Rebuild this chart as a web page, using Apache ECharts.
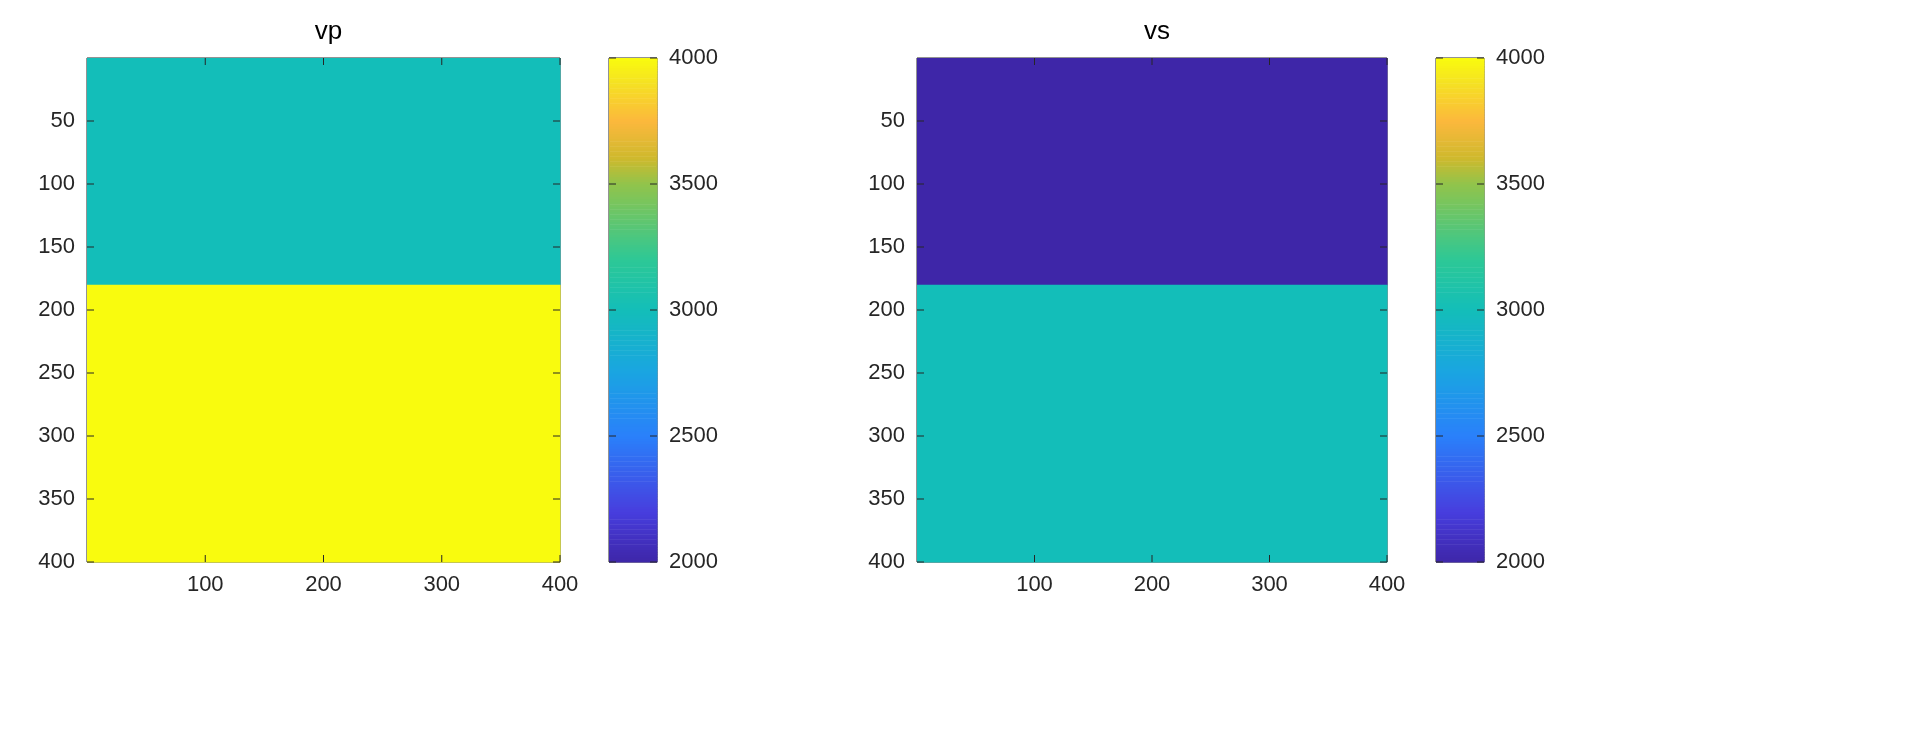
<!DOCTYPE html>
<html><head><meta charset="utf-8">
<script src="https://cdn.jsdelivr.net/npm/echarts@6/dist/echarts.min.js"></script>
<style>html,body{margin:0;background:#fff}#c{width:1911px;height:756px}</style>
</head><body><div id="c"></div>
<script>
// data: [x0, x1, y0, y1, value]
const vpBlocks = [[0,400,0,180,3000],[0,400,180,400,4000]];
const vsBlocks = [[0,400,0,180,2000],[0,400,180,400,3000]];
const titles = ['vp','vs'];
const xTicks = [100,200,300,400];
const yTicks = [50,100,150,200,250,300,350,400];
const cbTicks = [2000,2500,3000,3500,4000];
const cMin = 2000, cMax = 4000;

const anchors = [[0,[62,38,168]],[0.1,[71,62,222]],[0.25,[42,128,250]],[0.375,[26,164,226]],[0.5,[19,190,185]],
 [0.6,[45,200,150]],[0.75,[145,196,75]],[0.8,[205,185,45]],[0.875,[252,184,60]],[0.95,[245,225,35]],[1,[249,251,14]]];
function cmap(v){let t=(v-cMin)/(cMax-cMin);t=Math.max(0,Math.min(1,t));
 for(let i=1;i<anchors.length;i++){if(t<=anchors[i][0]){const a=anchors[i-1],b=anchors[i],f=(t-a[0])/(b[0]-a[0]);
 const c=a[1].map((x,k)=>Math.round(x+(b[1][k]-x)*f));return `rgb(${c})`;}}return 'rgb(249,251,14)';}

const cbData=[];for(let i=0;i<200;i++){const a=cMin+i*(cMax-cMin)/200,b=cMin+(i+1)*(cMax-cMin)/200;cbData.push([0,1,a,b,(a+b)/2]);}

const font={fontFamily:'Liberation Sans, Arial',fontSize:22,color:'#262626'};
const panels=[{l:87,w:473,cb:609},{l:917,w:470,cb:1436}];
const grids=[],xA=[],yA=[],series=[],gtitle=[];
function rect(params,api){const p0=api.coord([api.value(0),api.value(2)]),p1=api.coord([api.value(1),api.value(3)]);
 return {type:'rect',shape:{x:Math.min(p0[0],p1[0]),y:Math.min(p0[1],p1[1]),width:Math.abs(p1[0]-p0[0])+0.5,height:Math.abs(p1[1]-p0[1])+0.5},style:{fill:cmap(api.value(4))}};}
// tick marks: [axis ('x'|'y'), value, min-other, max-other]
function tickItem(params,api){const isX=api.value(0)===0,v=api.value(1),lo=api.value(2),hi=api.value(3);
 const L=7,st={stroke:'#262626',lineWidth:1};
 if(isX){const a=api.coord([v,lo]),b=api.coord([v,hi]);
  return {type:'group',children:[{type:'line',shape:{x1:a[0],y1:a[1],x2:a[0],y2:a[1]-L},style:st},{type:'line',shape:{x1:b[0],y1:b[1],x2:b[0],y2:b[1]+L},style:st}]};}
 const a=api.coord([lo,v]),b=api.coord([hi,v]);
 return {type:'group',children:[{type:'line',shape:{x1:a[0],y1:a[1],x2:a[0]+L,y2:a[1]},style:st},{type:'line',shape:{x1:b[0],y1:b[1],x2:b[0]-L,y2:b[1]},style:st}]};}
const fmt=(lst)=>v=>lst.includes(Math.round(v))?String(Math.round(v)):'';
panels.forEach((p,i)=>{
 const g=grids.length;
 grids.push({left:p.l,top:58,width:p.w,height:504,show:true,borderColor:'#262626',borderWidth:1,backgroundColor:'transparent'});
 grids.push({left:p.cb,top:58,width:48,height:504,show:true,borderColor:'#262626',borderWidth:1});
 const xi=xA.length;
 xA.push({gridIndex:g,type:'value',min:0,max:400,interval:100,axisLine:{show:false},axisTick:{show:false},
  axisLabel:{...font,margin:12,formatter:fmt(xTicks)},splitLine:{show:false}});
 xA.push({gridIndex:g+1,type:'value',min:0,max:1,show:false});
 const yi=yA.length;
 yA.push({gridIndex:g,type:'value',min:0,max:400,interval:50,inverse:true,axisLine:{show:false},axisTick:{show:false},
  axisLabel:{...font,margin:12,formatter:fmt(yTicks)},splitLine:{show:false}});
 yA.push({gridIndex:g+1,type:'value',min:cMin,max:cMax,interval:500,position:'right',axisLine:{show:false},axisTick:{show:false},
  axisLabel:{...font,margin:12,formatter:v=>String(v)},splitLine:{show:false}});
 series.push({type:'custom',xAxisIndex:xi,yAxisIndex:yi,renderItem:rect,data:i===0?vpBlocks:vsBlocks,z:1});
 series.push({type:'custom',xAxisIndex:xi+1,yAxisIndex:yi+1,renderItem:rect,data:cbData,z:1});
 series.push({type:'custom',xAxisIndex:xi,yAxisIndex:yi,renderItem:tickItem,z:5,silent:true,
  data:[...xTicks.map(t=>[0,t,400,0]),...yTicks.map(t=>[1,t,0,400])]});
 series.push({type:'custom',xAxisIndex:xi+1,yAxisIndex:yi+1,renderItem:tickItem,z:5,silent:true,
  data:cbTicks.map(t=>[1,t,0,1])});
 gtitle.push({text:titles[i],left:p.l+p.w/2,top:14,textAlign:'center',textStyle:{fontFamily:'Liberation Sans, Arial',fontSize:26,fontWeight:'normal',color:'#000'}});
});
const chart=echarts.init(document.getElementById('c'));
chart.setOption({animation:false,backgroundColor:'#fff',title:gtitle,grid:grids,xAxis:xA,yAxis:yA,series});
</script></body></html>
